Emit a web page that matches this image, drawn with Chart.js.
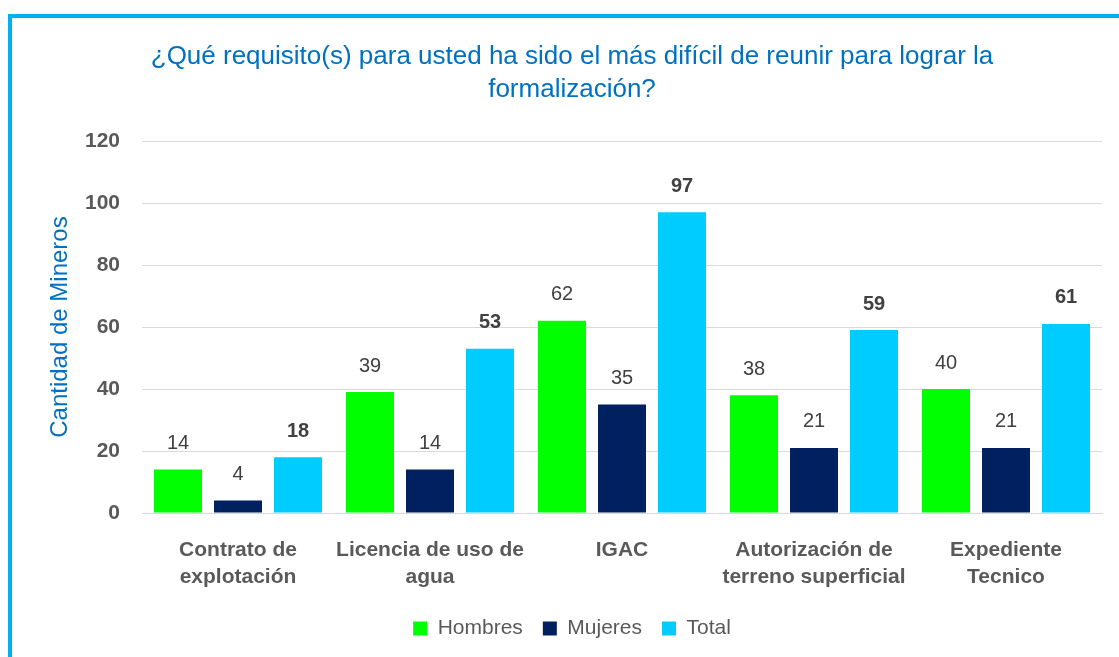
<!DOCTYPE html>
<html>
<head>
<meta charset="utf-8">
<script src="https://cdn.jsdelivr.net/npm/chart.js@4"></script>
<style>
    html, body { margin: 0; padding: 0; background: #fff; overflow: hidden; }
    #wrap { position: relative; width: 1119px; height: 657px; }
    #frame {
        position: absolute; left: 8px; top: 14px; width: 1200px; height: 700px;
        border: 4px solid #00B0F0; box-sizing: border-box; pointer-events: none;
    }
    canvas { position: absolute; left: 0; top: 0; }
</style>
</head>
<body>
<div id="wrap">
    <canvas id="chart" width="1119" height="657"></canvas>
    <div id="frame"></div>
</div>
<script>
const FONT = "'Liberation Sans', Arial, sans-serif";

// Chart data
const categories = [
    ["Contrato de", "explotación"],
    ["Licencia de uso de", "agua"],
    "IGAC",
    ["Autorización de", "terreno superficial"],
    ["Expediente", "Tecnico"],
];
const hombres = [14, 39, 62, 38, 40];
const mujeres = [4, 14, 35, 21, 21];
const total = [18, 53, 97, 59, 61];
const yTicks = [0, 20, 40, 60, 80, 100, 120];

// Draw the value above each bar (Total in bold)
const valueLabels = {
    id: "valueLabels",
    afterDatasetsDraw(chart) {
        const ctx = chart.ctx;
        chart.data.datasets.forEach((ds, i) => {
            const meta = chart.getDatasetMeta(i);
            meta.data.forEach((bar, j) => {
                ctx.save();
                ctx.font = (i === 2 ? "bold " : "") + "20px " + FONT;
                ctx.fillStyle = "#404040";
                ctx.textAlign = "center";
                ctx.textBaseline = "middle";
                ctx.fillText(ds.data[j], bar.x, bar.y - 26);
                ctx.restore();
            });
        });
    },
};

new Chart(document.getElementById("chart"), {
    type: "bar",
    data: {
        labels: categories,
        datasets: [
            { label: "Hombres", data: hombres, backgroundColor: "#00FF00" },
            { label: "Mujeres", data: mujeres, backgroundColor: "#002060" },
            { label: "Total", data: total, backgroundColor: "#00CCFF" },
        ],
    },
    options: {
        responsive: false,
        animation: false,
        datasets: {
            bar: { categoryPercentage: 0.9375, barPercentage: 0.8 },
        },
        layout: { padding: { left: 42, right: 17, top: 0, bottom: 8 } },
        plugins: {
            tooltip: { enabled: false },
            title: {
                display: true,
                text: [
                    "¿Qué requisito(s) para usted ha sido el más difícil de reunir para lograr la",
                    "formalización?",
                ],
                color: "#0070C0",
                font: { family: FONT, size: 26, weight: "normal", lineHeight: 1.27 },
                padding: { top: 40, bottom: 35 },
            },
            legend: {
                position: "bottom",
                labels: {
                    color: "#595959",
                    font: { family: FONT, size: 21 },
                    boxWidth: 14,
                    boxHeight: 14,
                    padding: 20,
                },
            },
        },
        scales: {
            x: {
                grid: { display: false, drawTicks: false },
                border: { color: "#D9D9D9", width: 1 },
                ticks: {
                    color: "#595959",
                    font: { family: FONT, size: 21, weight: "bold", lineHeight: 1.29 },
                    padding: 24,
                    maxRotation: 0,
                    autoSkip: false,
                },
                afterFit(scale) { scale.height = 85; },
            },
            y: {
                min: 0,
                max: 120,
                afterBuildTicks(scale) { scale.ticks = yTicks.map(v => ({ value: v })); },
                grid: { color: "#D9D9D9", drawTicks: false },
                border: { display: false },
                ticks: {
                    color: "#595959",
                    font: { family: FONT, size: 21, weight: "bold" },
                    padding: 22,
                },
                title: {
                    display: true,
                    text: "Cantidad de Mineros",
                    color: "#0070C0",
                    font: { family: FONT, size: 24 },
                    padding: { top: 4, bottom: 6 },
                },
                afterFit(scale) { scale.width = 100; },
            },
        },
    },
    plugins: [valueLabels],
});
</script>
</body>
</html>
